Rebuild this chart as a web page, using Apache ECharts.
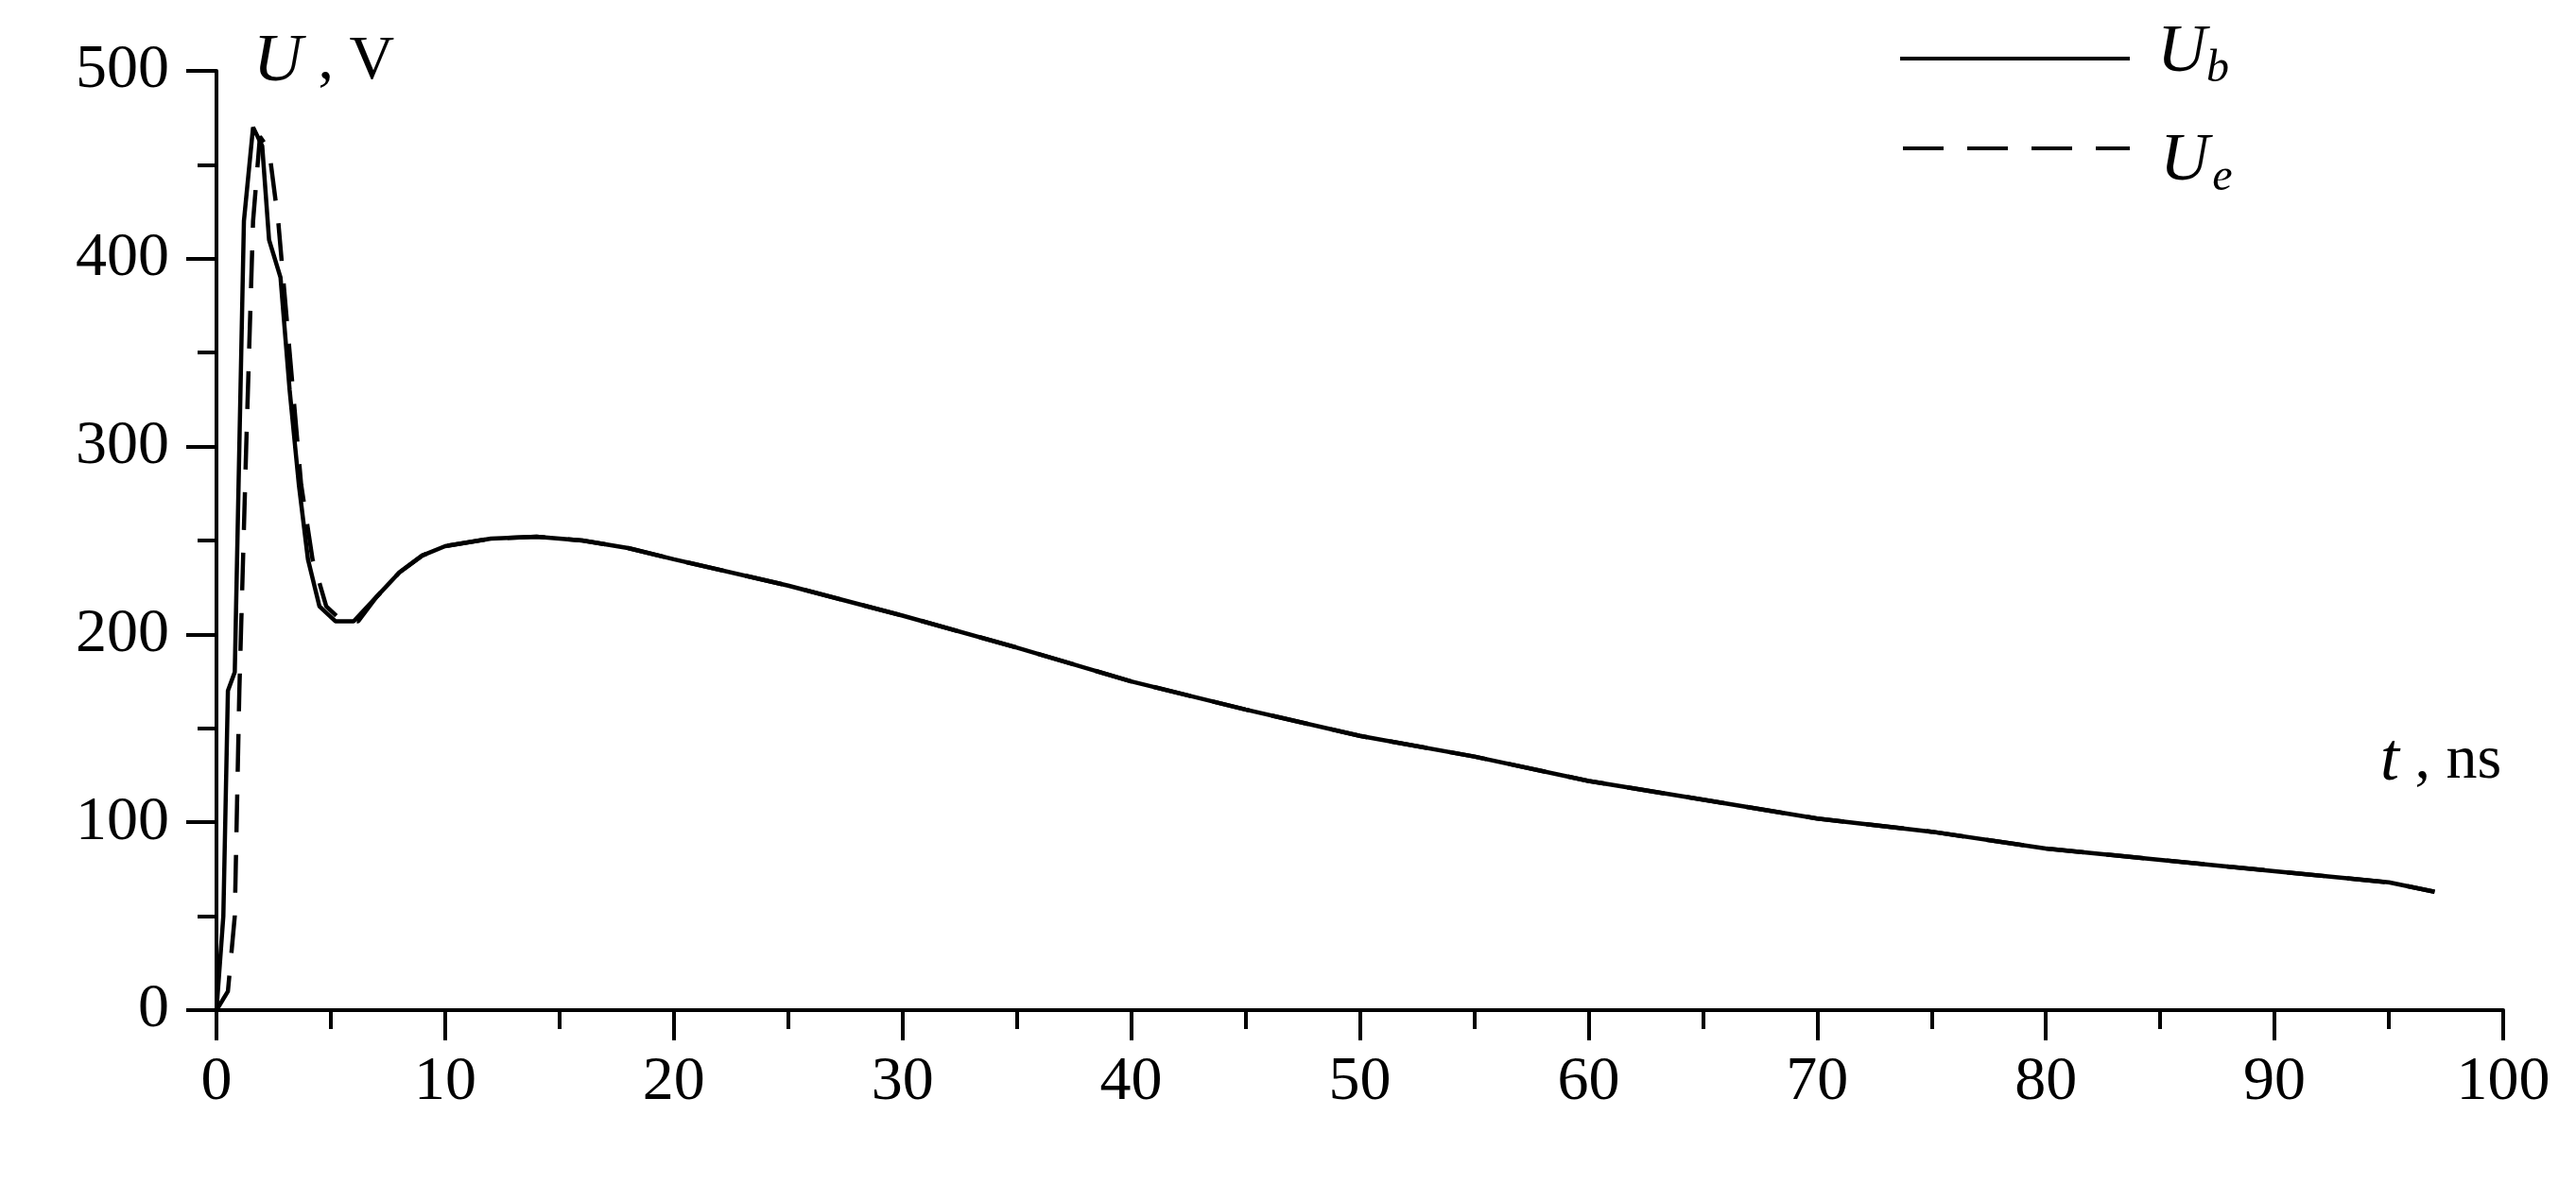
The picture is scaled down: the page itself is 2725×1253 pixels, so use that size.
<!DOCTYPE html>
<html><head><meta charset="utf-8">
<script src="https://cdn.jsdelivr.net/npm/echarts@6/dist/echarts.min.js"></script>
<style>html,body{margin:0;padding:0;background:#fff}#c{width:2725px;height:1253px}</style>
</head><body><div id="c"></div>
<script>
const ubT = [0,0.3,0.5,0.8,1.0,1.2,1.6,2.0,2.3,2.8,3.2,3.6,4.0,4.5,5.2,6,7,8,9,10,12,14,16,18,20,25,30,35,40,45,50,55,60,65,70,75,80,85,90,95,97];
const ubV = [0,50,170,180,300,420,470,460,410,390,330,280,240,215,207,207,220,233,242,247,251,252,250,246,240,226,210,193,175,160,146,135,122,112,102,95,86,80,74,68,63];
const ueT = [0,0.5,0.8,1.0,1.3,1.6,1.9,2.3,2.7,3.2,3.7,4.2,4.8,5.5,6.2,7,8,9,10,12,14,16,18,20,25,30,35,40,45,50,55,60,65,70,75,80,85,90,95,97];
const ueV = [0,10,50,170,300,420,465,458,420,350,280,240,215,207,207,220,233,242,247,251,252,250,246,240,226,210,193,175,160,146,135,122,112,102,95,86,80,74,68,63];
const F = 'Liberation Serif';
const pair = (t,v)=>t.map((x,i)=>[x,v[i]]);
const chart = echarts.init(document.getElementById('c'));
const axisCommon = {
  axisLine:{onZero:false,lineStyle:{color:'#000',width:4}},
  axisTick:{inside:false,length:32,lineStyle:{color:'#000',width:4}},
  minorTick:{show:true,splitNumber:2,length:20,lineStyle:{color:'#000',width:4}},
  splitLine:{show:false},
  axisLabel:{color:'#000',fontFamily:F,fontSize:66}
};
const rich = {i:{fontFamily:F,fontStyle:'italic',fontSize:72},n:{fontFamily:F,fontSize:66},s:{fontFamily:F,fontStyle:'italic',fontSize:48,padding:[34,0,0,0]}};
chart.setOption({
  animation:false,
  grid:{left:229,right:77,top:75,bottom:184},
  xAxis:Object.assign({type:'value',min:0,max:100,interval:10},axisCommon,{axisLabel:Object.assign({},axisCommon.axisLabel,{margin:44})}),
  yAxis:Object.assign({type:'value',min:0,max:500,interval:100},axisCommon,{axisLabel:Object.assign({},axisCommon.axisLabel,{margin:50})}),
  graphic:[
    {type:'text',left:268,top:30,style:{rich,text:'{i|U}{n| , V}',fill:'#000'}},
    {type:'text',left:2518,top:770,style:{rich,text:'{i|t}{n| , ns}',fill:'#000'}},
    {type:'line',shape:{x1:2010,y1:62,x2:2253,y2:62},style:{stroke:'#000',lineWidth:4}},
    {type:'line',shape:{x1:2013,y1:157,x2:2253,y2:157},style:{stroke:'#000',lineWidth:4,lineDash:[43,25]}},
    {type:'text',left:2282,top:20,style:{rich,text:'{i|U}{s|b}',fill:'#000'}},
    {type:'text',left:2285,top:135,style:{rich,text:'{i|U} {s|e}',fill:'#000'}}
  ],
  series:[
    {name:'Ub',type:'line',data:pair(ubT,ubV),showSymbol:false,lineStyle:{color:'#000',width:4.5,type:'solid'}},
    {name:'Ue',type:'line',data:pair(ueT,ueV),showSymbol:false,lineStyle:{color:'#000',width:4.5,type:[40,24]}}
  ]
});
</script></body></html>
